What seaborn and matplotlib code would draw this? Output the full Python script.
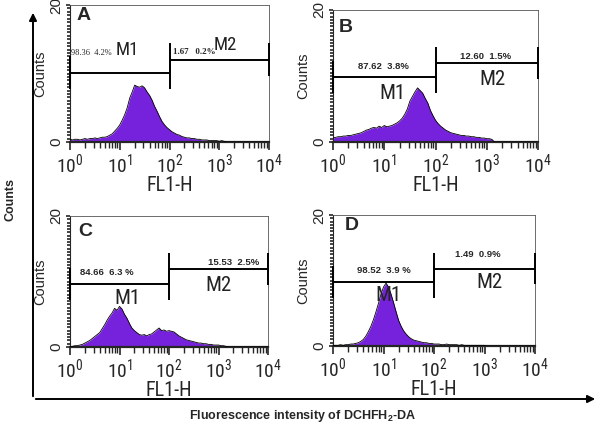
import numpy as np
import pandas as pd
import matplotlib
matplotlib.use("Agg")
import matplotlib.pyplot as plt
from matplotlib import font_manager as fm
from matplotlib.patches import FancyArrowPatch
from matplotlib.ticker import FixedLocator, LogLocator, MultipleLocator, NullFormatter
import seaborn as sns

# FL1-H channel grid, log10 units, 0.05 decade per bin
fl1_log = np.round(np.arange(0, 4.0001, 0.05), 2)

counts_a = [0.4, 0.3, 0.4, 0.4, 0.3, 0.4, 0.5, 0.4, 0.5, 0.5,
            0.6, 0.5, 0.6, 0.7, 0.7, 0.8, 1.0, 1.2, 1.6, 2.0,
            2.5, 3.2, 4.0, 5.0, 6.4, 7.3, 8.3, 8.1, 8.0, 8.2,
            7.9, 7.3, 6.8, 6.1, 5.2, 4.5, 3.7, 3.0, 2.5, 2.1,
            1.8, 1.5, 1.3, 1.1, 1.0, 0.8, 0.7, 0.6, 0.6, 0.5,
            0.5, 0.4, 0.4, 0.3, 0.3, 0.3, 0.2, 0.2, 0.2, 0.2,
            0.1, 0.2, 0.1, 0.0, 0.0, 0.0, 0.0, 0.0, 0.0, 0.0,
            0.0, 0.0, 0.0, 0.0, 0.0, 0.0, 0.0, 0.0, 0.0, 0.0,
            0.0]
counts_b = [0.6, 0.7, 0.8, 0.8, 0.9, 0.9, 1.0, 1.0, 1.1, 1.2,
            1.3, 1.4, 1.6, 1.8, 1.9, 2.1, 2.2, 2.1, 2.4, 2.2,
            2.5, 2.3, 2.4, 2.5, 2.7, 2.9, 3.2, 3.6, 4.2, 5.0,
            6.2, 6.9, 7.6, 8.2, 7.8, 7.4, 6.6, 5.9, 4.8, 4.0,
            3.3, 2.8, 2.4, 2.1, 1.8, 1.6, 1.4, 1.3, 1.2, 1.1,
            1.0, 1.0, 0.9, 0.9, 0.8, 0.8, 0.7, 0.7, 0.6, 0.6,
            0.5, 0.5, 0.4, 0.0, 0.0, 0.0, 0.0, 0.0, 0.0, 0.0,
            0.0, 0.0, 0.0, 0.0, 0.0, 0.0, 0.0, 0.0, 0.0, 0.0,
            0.0]
counts_c = [0.0, 0.1, 0.2, 0.2, 0.3, 0.4, 0.6, 0.8, 1.0, 1.3,
            1.6, 1.9, 2.2, 2.8, 3.4, 4.1, 4.7, 5.2, 5.9, 5.6,
            6.2, 5.8, 5.0, 4.4, 3.6, 2.9, 2.5, 2.2, 1.9, 1.8,
            1.9, 1.7, 1.9, 2.0, 2.3, 2.6, 2.9, 2.5, 2.6, 2.4,
            2.5, 2.4, 2.3, 2.0, 1.7, 1.5, 1.3, 1.1, 1.0, 0.9,
            0.8, 0.7, 0.6, 0.6, 0.5, 0.5, 0.4, 0.4, 0.3, 0.3,
            0.3, 0.2, 0.2, 0.1, 0.0, 0.0, 0.0, 0.0, 0.0, 0.0,
            0.0, 0.0, 0.0, 0.0, 0.0, 0.0, 0.0, 0.0, 0.0, 0.0,
            0.0]
counts_d = [0.1, 0.1, 0.1, 0.2, 0.1, 0.2, 0.2, 0.3, 0.3, 0.4,
            0.5, 0.7, 1.0, 1.5, 2.2, 3.0, 4.0, 5.2, 6.5, 7.9,
            9.0, 9.6, 9.0, 7.9, 6.6, 5.2, 3.9, 3.0, 2.3, 1.8,
            1.4, 1.1, 0.9, 0.8, 0.7, 0.6, 0.5, 0.5, 0.4, 0.4,
            0.3, 0.3, 0.3, 0.2, 0.2, 0.3, 0.2, 0.2, 0.2, 0.2,
            0.1, 0.2, 0.1, 0.1, 0.1, 0.1, 0.1, 0.1, 0.1, 0.1,
            0.1, 0.0, 0.0, 0.0, 0.0, 0.0, 0.0, 0.0, 0.0, 0.0,
            0.0, 0.0, 0.0, 0.0, 0.0, 0.0, 0.0, 0.0, 0.0, 0.0,
            0.0]

panel_letters = ["A", "B", "C", "D"]
m1_stats = ["98.36  4.2%", "87.62  3.8%", "84.66  6.3 %", "98.52  3.9 %"]
m2_stats = ["1.67   0.2%", "12.60  1.5%", "15.53  2.5%", "1.49  0.9%"]
gate_m1 = [1, 100]
gate_m2 = [100, 10000]
x_ticks = [1, 10, 100, 1000, 10000]
x_tick_labels = [r"$\mathregular{10^{0}}$", r"$\mathregular{10^{1}}$", r"$\mathregular{10^{2}}$",
                 r"$\mathregular{10^{3}}$", r"$\mathregular{10^{4}}$"]
y_ticks = [0, 20]
y_tick_labels = ["0", "20"]

PURPLE = "#7622dc"

sns.set_style("ticks")
plt.rcParams["font.family"] = ["Liberation Sans", "DejaVu Sans"]
plt.rcParams["mathtext.fontset"] = "custom"
plt.rcParams["mathtext.bf"] = "Liberation Sans:bold"


# the cytometer labels use a narrow typeface; take whatever condensed sans is installed
def find_narrow():
    prefer = ["Liberation Sans Narrow", "Roboto Condensed", "Open Sans Condensed",
              "DejaVu Sans", "Noto Sans", "Roboto", "Open Sans"]
    found = {}
    for f in fm.fontManager.ttflist:
        if f.style != "normal" or f.weight not in (400, "normal", "regular", "book"):
            continue
        narrowish = f.stretch in ("condensed", "extra-condensed", "semi-condensed") \
            or "Narrow" in f.name or "Condensed" in f.name
        if narrowish:
            found.setdefault(f.name, f.fname)
    for name in prefer:
        if name in found:
            return fm.FontProperties(fname=found[name])
    if found:
        return fm.FontProperties(fname=sorted(found.values())[0])
    return fm.FontProperties(family="DejaVu Sans")


NARROW = find_narrow()


def narrow(size):
    p = NARROW.copy()
    p.set_size(size)
    return p


df = pd.DataFrame({
    "fl1": np.tile(10 ** fl1_log, 4),
    "count": counts_a + counts_b + counts_c + counts_d,
    "panel": np.repeat(panel_letters, len(fl1_log)),
})

# layout in pixels (left, top, right, bottom) and label placement per panel
boxes = [(70, 5, 269, 142), (333, 10, 538, 142), (70, 216, 268, 347), (333, 215, 535, 346)]
gate_levels = [(10.1, 12.0), (9.8, 12.0), (9.6, 11.9), (9.8, 11.8)]
letter_pos = [(0.035, 0.92), (0.03, 0.87), (0.04, 0.88), (0.06, 0.92)]
stat1_pos = [(0.02, 13.0), (0.98, 11.4), (0.75, 11.3), (1.0, 11.6)]
stat2_pos = [(2.5, 13.1), (2.97, 13.0), (3.3, 12.9), (2.87, 14.0)]
m1_pos = [(1.16, 13.4), (1.15, 7.3), (1.17, 7.4), (1.09, 7.7)]
m2_pos = [(3.12, 14.2), (3.12, 9.4), (3.0, 9.4), (3.1, 9.7)]
m_sizes = [13.5, 15, 15, 15]

W, H = 600, 430
fig = plt.figure(figsize=(6, 4.3), dpi=100, facecolor="white")


def draw_gate(ax, lo, hi, level, half=2.4):
    ax.hlines(level, lo, hi, color="black", lw=1.4, clip_on=False, zorder=4)
    ax.vlines([lo, hi], level - half, level + half, color="black", lw=1.4, clip_on=False, zorder=4)


for i, letter in enumerate(panel_letters):
    l, t, r, b = boxes[i]
    ax = fig.add_axes([l / W, 1 - b / H, (r - l) / W, (b - t) / H])
    sub = df[df["panel"] == letter]
    ax.fill_between(sub["fl1"], 0, sub["count"], color=PURPLE, lw=0, zorder=2)
    sns.lineplot(data=sub, x="fl1", y="count", ax=ax, color="black", lw=0.6, zorder=3)
    ax.set_xscale("log")
    ax.set_xlim(1, 1e4)
    ax.set_ylim(0, 20)

    ax.xaxis.set_major_locator(FixedLocator(x_ticks))
    ax.set_xticklabels(x_tick_labels, fontproperties=narrow(14))
    ax.xaxis.set_minor_locator(LogLocator(base=10, subs=np.arange(2, 10), numticks=20))
    ax.xaxis.set_minor_formatter(NullFormatter())
    ax.yaxis.set_major_locator(FixedLocator(y_ticks))
    ax.set_yticklabels(y_tick_labels, rotation=90, va="center", fontsize=11)
    ax.yaxis.set_minor_locator(MultipleLocator(0.5))
    ax.tick_params(axis="x", which="major", length=6, width=1.2, pad=1.5, direction="out")
    ax.tick_params(axis="x", which="minor", length=4, width=1.0, direction="out")
    ax.tick_params(axis="y", which="major", length=3, width=1.2, pad=2)
    ax.tick_params(axis="y", which="minor", length=2.5, width=1.2)

    for side in ["top", "right"]:
        ax.spines[side].set_linewidth(0.6)
        ax.spines[side].set_color("#555555")
    ax.spines["bottom"].set_linewidth(1.6)
    ax.spines["left"].set_linewidth(0.8)

    ax.set_xlabel("FL1-H", fontproperties=narrow(14.5), labelpad=0)
    ax.set_ylabel("Counts", fontsize=10.5)
    ax.yaxis.set_label_coords(-23 / (r - l), 0.5)

    draw_gate(ax, gate_m1[0], gate_m1[1], gate_levels[i][0])
    draw_gate(ax, gate_m2[0], gate_m2[1], gate_levels[i][1])

    ax.text(*letter_pos[i], letter, transform=ax.transAxes, fontsize=14,
            fontweight="bold", ha="left", va="center")

    if letter == "A":
        ax.text(10 ** stat1_pos[i][0], stat1_pos[i][1], m1_stats[i], fontsize=6,
                family=["Liberation Serif"], ha="left", va="center")
        ax.text(10 ** stat2_pos[i][0], stat2_pos[i][1], m2_stats[i], fontsize=6.5,
                family=["Liberation Serif"], fontweight="bold", ha="center", va="center")
    else:
        ax.text(10 ** stat1_pos[i][0], stat1_pos[i][1], m1_stats[i], fontsize=6.8,
                fontweight="bold", ha="center", va="center")
        ax.text(10 ** stat2_pos[i][0], stat2_pos[i][1], m2_stats[i], fontsize=6.8,
                fontweight="bold", ha="center", va="center")
    ax.text(10 ** m1_pos[i][0], m1_pos[i][1], "M1", fontproperties=narrow(m_sizes[i]),
            color="#222222", ha="center", va="center", zorder=5)
    ax.text(10 ** m2_pos[i][0], m2_pos[i][1], "M2", fontproperties=narrow(m_sizes[i]),
            color="#222222", ha="center", va="center", zorder=5)

# outer axes arrows
x0, y0 = 33 / W, 1 - 399 / H
fig.add_artist(FancyArrowPatch((x0, y0), (x0, 1 - 10 / H), transform=fig.transFigure,
                               arrowstyle="-|>", mutation_scale=11, lw=1.4, color="black"))
fig.add_artist(FancyArrowPatch((x0, y0), (598 / W, y0), transform=fig.transFigure,
                               arrowstyle="-|>", mutation_scale=11, lw=1.4, color="black"))
fig.text(10 / W, 1 - 200 / H, "Counts", rotation=90, fontsize=9, fontweight="bold",
         ha="center", va="center")
fig.text(303 / W, 1 - 416 / H, r"Fluorescence intensity of DCHFH$_\mathbf{2}$-DA",
         fontsize=9, fontweight="bold", ha="center", va="center")

fig.savefig("out.png", dpi=100, facecolor="white")
